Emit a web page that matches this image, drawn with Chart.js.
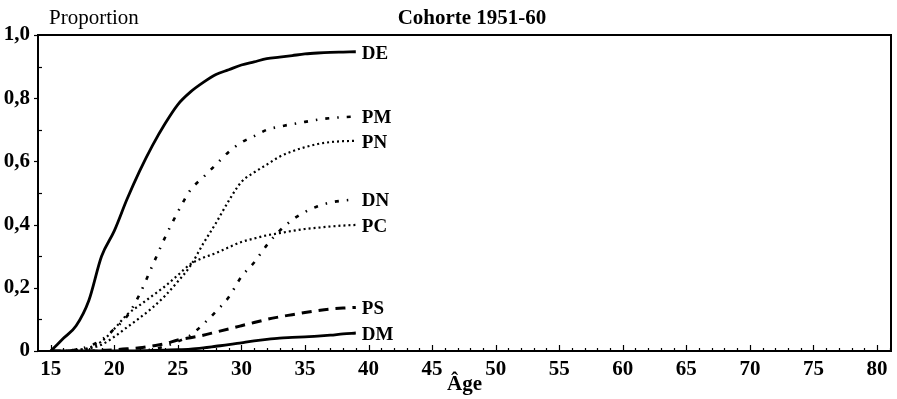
<!DOCTYPE html>
<html>
<head>
<meta charset="utf-8">
<script src="https://cdn.jsdelivr.net/npm/chart.js@4"></script>
<style>
    html, body { margin: 0; padding: 0; background: #fff; }
    #wrap { width: 897px; height: 399px; position: relative; }
</style>
</head>
<body>
<div id="wrap"><canvas id="chart"></canvas></div>
<script>
// ===== données =====
const ages = [15, 16, 17, 18, 19, 20, 21, 22, 23, 24, 25, 26, 27, 28, 29, 30, 31, 32, 33, 34, 35, 36, 37, 38, 39];

const serieDE = [0, 0.04, 0.08, 0.16, 0.30, 0.38, 0.48, 0.57, 0.65, 0.72, 0.78, 0.82, 0.85, 0.875, 0.89, 0.905, 0.915, 0.925, 0.93, 0.935, 0.94, 0.943, 0.945, 0.946, 0.947];
const seriePM = [0, 0, 0.005, 0.015, 0.035, 0.07, 0.11, 0.18, 0.27, 0.36, 0.44, 0.51, 0.55, 0.59, 0.63, 0.66, 0.68, 0.70, 0.71, 0.718, 0.725, 0.732, 0.737, 0.74, 0.742];
const seriePN = [0, 0, 0.003, 0.008, 0.02, 0.045, 0.075, 0.105, 0.137, 0.175, 0.22, 0.27, 0.34, 0.405, 0.475, 0.535, 0.565, 0.59, 0.615, 0.632, 0.645, 0.655, 0.661, 0.664, 0.665];
const serieDN = [0, 0, 0, 0, 0, 0, 0, 0, 0.005, 0.015, 0.03, 0.05, 0.085, 0.125, 0.17, 0.235, 0.28, 0.335, 0.38, 0.415, 0.44, 0.458, 0.47, 0.476, 0.48];
const seriePC = [0, 0, 0.003, 0.01, 0.03, 0.07, 0.115, 0.145, 0.175, 0.205, 0.24, 0.275, 0.295, 0.31, 0.328, 0.345, 0.356, 0.366, 0.373, 0.38, 0.386, 0.39, 0.394, 0.397, 0.399];
const seriePS = [0, 0, 0, 0, 0.002, 0.004, 0.007, 0.01, 0.016, 0.023, 0.035, 0.042, 0.05, 0.06, 0.07, 0.08, 0.09, 0.10, 0.108, 0.115, 0.122, 0.128, 0.133, 0.136, 0.138];
const serieDM = [0, 0, 0, 0, 0, 0, 0, 0.001, 0.002, 0.003, 0.004, 0.006, 0.01, 0.015, 0.02, 0.026, 0.032, 0.037, 0.041, 0.043, 0.045, 0.047, 0.05, 0.054, 0.057];

const xTicks = [15, 20, 25, 30, 35, 40, 45, 50, 55, 60, 65, 70, 75, 80];
const yTicks = [0, 0.2, 0.4, 0.6, 0.8, 1.0];
const yTickLabels = ['0', '0,2', '0,4', '0,6', '0,8', '1,0'];

const chartTitle = 'Cohorte 1951-60';
const yTitle = 'Proportion';
const xTitle = 'Âge';

const SERIF = '"Liberation Serif", "DejaVu Serif", serif';

// construit les points {x, y}
function pts(serie) {
    return ages.map((a, i) => ({ x: a, y: serie[i] }));
}

function ds(label, serie, width, dash) {
    return {
        label: label,
        data: pts(serie),
        borderColor: '#000',
        borderWidth: width,
        borderDash: dash,
        borderCapStyle: 'butt',
        pointRadius: 0,
        cubicInterpolationMode: 'monotone',
        fill: false
    };
}

// ===== décorations : cadre, graduations, textes =====
const decorPlugin = {
    id: 'decor',
    afterDraw(chart) {
        const ctx = chart.ctx;
        const area = chart.chartArea;
        const xs = chart.scales.x;
        const ys = chart.scales.y;
        ctx.save();
        ctx.strokeStyle = '#000';

        // cadre
        ctx.lineWidth = 2;
        ctx.strokeRect(area.left, area.top, area.right - area.left, area.bottom - area.top);

        // graduations axe X (vers l'intérieur)
        ctx.lineWidth = 1.2;
        for (let v = 15; v <= 81; v++) {
            const px = Math.round(xs.getPixelForValue(v)) + 0.5;
            const len = (v % 5 === 0) ? 6 : 3;
            ctx.beginPath();
            ctx.moveTo(px, area.bottom);
            ctx.lineTo(px, area.bottom - len);
            ctx.stroke();
        }
        // graduations axe Y
        for (let k = 0; k <= 10; k++) {
            const v = k / 10;
            const py = Math.round(ys.getPixelForValue(v)) + 0.5;
            ctx.beginPath();
            if (k % 2 === 0) {
                ctx.moveTo(area.left - 4, py);
                ctx.lineTo(area.left, py);
            } else {
                ctx.moveTo(area.left, py);
                ctx.lineTo(area.left + 4, py);
            }
            ctx.stroke();
        }

        // étiquettes des courbes
        ctx.fillStyle = '#000';
        ctx.font = 'bold 19px ' + SERIF;
        ctx.textAlign = 'left';
        ctx.textBaseline = 'middle';
        chart.data.datasets.forEach((d, i) => {
            const meta = chart.getDatasetMeta(i);
            const last = meta.data[meta.data.length - 1];
            ctx.fillText(d.label, last.x + 6, last.y + 2);
        });

        // titres
        ctx.font = 'bold 21px ' + SERIF;
        ctx.textAlign = 'center';
        ctx.fillText(chartTitle, 472, 19);

        ctx.font = '21px ' + SERIF;
        ctx.textAlign = 'left';
        ctx.fillText(yTitle, 49, 18);

        ctx.font = 'bold 21px ' + SERIF;
        ctx.textAlign = 'center';
        ctx.fillText(xTitle, (area.left + area.right) / 2, 385);

        ctx.restore();
    }
};

new Chart(document.getElementById('chart'), {
    type: 'line',
    data: {
        datasets: [
            ds('DE', serieDE, 2.8, []),
            ds('PM', seriePM, 2.6, [4, 8, 1.5, 8]),
            ds('PN', seriePN, 2.2, [2, 3]),
            ds('DN', serieDN, 2.6, [4, 8, 1.5, 8]),
            ds('PC', seriePC, 2.2, [2, 3]),
            ds('PS', seriePS, 3, [10, 7]),
            ds('DM', serieDM, 2.8, [])
        ]
    },
    options: {
        responsive: true,
        maintainAspectRatio: false,
        animation: false,
        events: [],
        layout: { padding: { left: 0, right: 6, top: 35, bottom: 0 } },
        plugins: {
            legend: { display: false },
            title: { display: false },
            tooltip: { enabled: false }
        },
        scales: {
            x: {
                type: 'linear',
                min: 14,
                max: 81.1,
                grid: { display: false, drawTicks: false },
                border: { display: false },
                afterBuildTicks(scale) { scale.ticks = xTicks.map(v => ({ value: v })); },
                afterFit(scale) { scale.height = 48; },
                ticks: {
                    color: '#000',
                    padding: 6,
                    maxRotation: 0,
                    autoSkip: false,
                    font: { family: SERIF, size: 21, weight: 'bold' },
                    callback: v => String(v)
                }
            },
            y: {
                min: 0,
                max: 1,
                grid: { display: false, drawTicks: false },
                border: { display: false },
                afterBuildTicks(scale) { scale.ticks = yTicks.map(v => ({ value: v })); },
                afterFit(scale) { scale.width = 38; },
                ticks: {
                    color: '#000',
                    padding: 8,
                    autoSkip: false,
                    font: { family: SERIF, size: 21, weight: 'bold' },
                    callback: (v, i) => yTickLabels[i]
                }
            }
        }
    },
    plugins: [decorPlugin]
});
</script>
</body>
</html>
